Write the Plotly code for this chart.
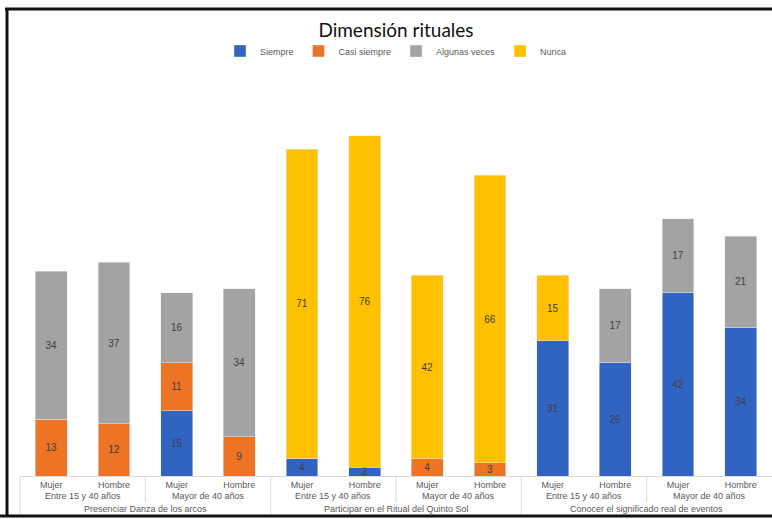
import plotly.graph_objects as go

# ---- data ----
actividades = ["Presenciar Danza de los arcos", "Participar en el Ritual del Quinto Sol",
               "Conocer el significado real de eventos"]
edades = ["Entre 15 y 40 años", "Mayor de 40 años"]
generos = ["Mujer", "Hombre"]

series_names = ["Siempre", "Casi siempre", "Algunas veces", "Nunca"]
siempre       = [None, None, 15, None,  4,  2, None, None, 31, 26, 42, 34]
casi_siempre  = [13,   12,   11,   9, None, None, 4,    3, None, None, None, None]
algunas_veces = [34,   37,   16,  34, None, None, None, None, None, 17, 17, 21]
nunca         = [None, None, None, None, 71, 76, 42,  66, 15, None, None, None]

colors = ["#3163C2", "#EC7424", "#A3A3A3", "#FFC000"]

# ---- layout geometry (pixels) ----
W, H = 772, 519
L, R, T, B = 20, 0, 65, 43
plot_w = W - L - R
plot_h = H - T - B
base_px = H - B

n = len(actividades) * len(edades) * len(generos)
xs = list(range(n))
tick_text = [generos[i % 2] for i in xs]

def px_x(xi):
    return (xi + 0.5) / n

def py(pix):
    return (base_px - pix) / plot_h

def pxp(pix):
    return (pix - L) / plot_w

fig = go.Figure()
for name, vals, col in zip(series_names, [siempre, casi_siempre, algunas_veces, nunca], colors):
    fig.add_trace(go.Bar(
        x=xs, y=vals, name=name, marker_color=col, width=0.51,
        text=[("" if v is None else str(v)) for v in vals],
        textposition="inside", insidetextanchor="middle",
        textfont=dict(family="Liberation Sans", size=10, color="#404040"),
        constraintext="none", textangle=0,
    ))

line_col = "#D9D9D9"
shapes = []
annotations = []

# separators in the category table
row_y = [py(base_px + 7), py(base_px + 20), py(base_px + 33)]
for b in range(n):
    xb = b - 0.5
    if b % 4 == 0:
        y1 = py(base_px + 38)
    elif b % 2 == 0:
        y1 = py(base_px + 26)
    else:
        continue
    shapes.append(dict(type="line", xref="paper", yref="paper",
                       x0=px_x(xb), x1=px_x(xb), y0=0, y1=y1,
                       line=dict(color=line_col, width=1)))

# age labels and activity labels
for a in range(len(actividades)):
    for e in range(len(edades)):
        c = a * 4 + e * 2 + 0.5
        annotations.append(dict(text=edades[e], xref="paper", yref="paper",
                                x=px_x(c), y=row_y[1], showarrow=False,
                                xanchor="center", yanchor="middle",
                                font=dict(family="Liberation Sans", size=9, color="#595959")))
    c = a * 4 + 1.5
    annotations.append(dict(text=actividades[a], xref="paper", yref="paper",
                            x=px_x(c), y=row_y[2], showarrow=False,
                            xanchor="center", yanchor="middle",
                            font=dict(family="Liberation Sans", size=9, color="#595959")))

# outer black frame (picture border)
frame = dict(color="#111111", width=3)
shapes.append(dict(type="line", xref="paper", yref="paper",
                   x0=pxp(5), x1=pxp(W), y0=py(9), y1=py(9), line=frame))
shapes.append(dict(type="line", xref="paper", yref="paper",
                   x0=pxp(7), x1=pxp(7), y0=py(9), y1=py(516), line=frame))
shapes.append(dict(type="line", xref="paper", yref="paper",
                   x0=pxp(0), x1=pxp(W), y0=py(516), y1=py(516), line=frame))

fig.update_layout(
    width=W, height=H,
    margin=dict(l=L, r=R, t=T, b=B),
    barmode="stack",
    plot_bgcolor="white", paper_bgcolor="white",
    uniformtext=dict(minsize=10, mode="show"),
    title=dict(text="Dimensión rituales", x=0.5, xref="paper", xanchor="center",
               y=1 - 30 / H, yanchor="middle",
               font=dict(family="Lato", size=19, color="#111111")),
    legend=dict(orientation="h", x=0.5, xanchor="center", xref="paper",
                y=py(51), yanchor="middle",
                font=dict(family="Liberation Sans", size=9, color="#595959"),
                bgcolor="rgba(0,0,0,0)", traceorder="normal"),
    xaxis=dict(range=[-0.5, n - 0.5], tickmode="array", tickvals=xs, ticktext=tick_text,
               showgrid=False, zeroline=False, showline=True, linecolor=line_col,
               ticks="", tickfont=dict(family="Liberation Sans", size=9, color="#595959"),
               fixedrange=True),
    yaxis=dict(range=[0, plot_h / 4.36], visible=False, showgrid=False, fixedrange=True),
    shapes=shapes,
    annotations=annotations,
    showlegend=True,
)

fig.write_html(
    "out.html",
    config={"displayModeBar": False},
    post_script="document.documentElement.style.overflow='hidden';document.body.style.overflow='hidden';document.body.style.margin='0';",
)
